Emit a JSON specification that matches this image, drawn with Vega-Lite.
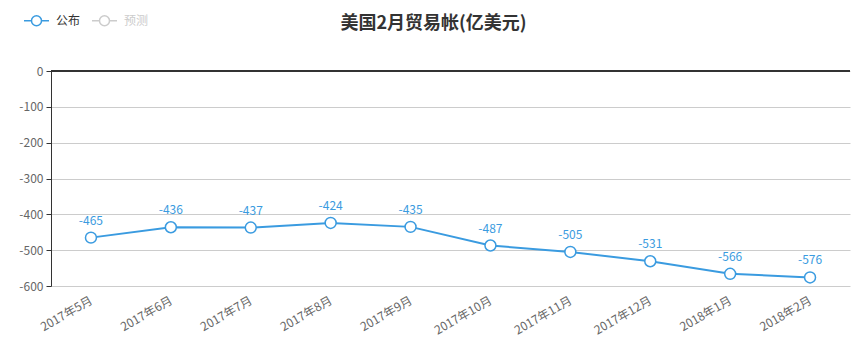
{
  "$schema": "https://vega.github.io/schema/vega-lite/v6.json",
  "autosize": "none",
  "width": 799,
  "height": 215,
  "padding": {"left": 51, "top": 71, "right": 13, "bottom": 67},
  "background": "white",
  "config": {
    "font": "Noto Sans CJK SC",
    "view": {"stroke": null}
  },
  "title": {
    "text": "美国2月贸易帐(亿美元)",
    "anchor": "middle",
    "dx": -17,
    "offset": -26,
    "fontSize": 18,
    "fontWeight": "bold",
    "color": "#333333",
    "font": "Noto Sans CJK SC"
  },
  "data": {
    "values": [
      {"month": "2017年5月", "series": "公布", "value": -465},
      {"month": "2017年6月", "series": "公布", "value": -436},
      {"month": "2017年7月", "series": "公布", "value": -437},
      {"month": "2017年8月", "series": "公布", "value": -424},
      {"month": "2017年9月", "series": "公布", "value": -435},
      {"month": "2017年10月", "series": "公布", "value": -487},
      {"month": "2017年11月", "series": "公布", "value": -505},
      {"month": "2017年12月", "series": "公布", "value": -531},
      {"month": "2018年1月", "series": "公布", "value": -566},
      {"month": "2018年2月", "series": "公布", "value": -576}
    ]
  },
  "encoding": {
    "x": {
      "field": "month",
      "type": "ordinal",
      "sort": null,
      "scale": {"type": "point", "padding": 0.5},
      "axis": {
        "title": null,
        "domain": false,
        "ticks": false,
        "grid": false,
        "labelAngle": -30,
        "labelAlign": "right",
        "labelBaseline": "middle",
        "labelPadding": 13,
        "labelFontSize": 12,
        "labelColor": "#666666"
      }
    },
    "y": {
      "field": "value",
      "type": "quantitative",
      "scale": {"domain": [-600, 0], "nice": false},
      "axis": {
        "title": null,
        "values": [-600, -500, -400, -300, -200, -100, 0],
        "labelExpr": "'' + datum.value",
        "grid": true,
        "gridColor": "#cccccc",
        "domainColor": "#333333",
        "tickColor": "#333333",
        "tickSize": 5,
        "labelPadding": 3,
        "labelFontSize": 12,
        "labelColor": "#666666"
      }
    }
  },
  "layer": [
    {
      "mark": {"type": "rule", "color": "#333333", "strokeWidth": 1},
      "encoding": {"x": null, "y": {"datum": 0, "type": "quantitative"}}
    },
    {
      "mark": {"type": "line", "strokeWidth": 2},
      "encoding": {
        "color": {
          "field": "series",
          "type": "nominal",
          "scale": {"domain": ["公布", "预测"], "range": ["#3a9be0", "#cccccc"]},
          "legend": {
            "title": null,
            "orient": "none",
            "direction": "horizontal",
            "legendX": -28,
            "legendY": -64,
            "symbolType": "M-1,0 L-0.4,0 M0.4,0 L1,0 M0.4,0 A0.4,0.4 0 1,1 -0.4,0 A0.4,0.4 0 1,1 0.4,0",
            "symbolSize": 625,
            "symbolStrokeWidth": 1.5,
            "symbolFillColor": "white",
            "labelFontSize": 12,
            "labelOffset": 6,
            "columnPadding": 8,
            "encode": {
              "symbols": {"update": {"fill": {"value": "white"}, "strokeWidth": {"value": 1.5}}},
              "labels": {"update": {"fill": {"signal": "datum.label === '预测' ? '#cccccc' : '#333333'"}}}
            }
          }
        }
      }
    },
    {
      "mark": {"type": "point", "filled": true, "fill": "white", "stroke": "#3a9be0", "strokeWidth": 1.5, "size": 120, "opacity": 1}
    },
    {
      "mark": {"type": "text", "dy": -17, "fontSize": 12, "color": "#3a9be0"},
      "encoding": {"text": {"field": "value", "type": "nominal"}}
    }
  ]
}
